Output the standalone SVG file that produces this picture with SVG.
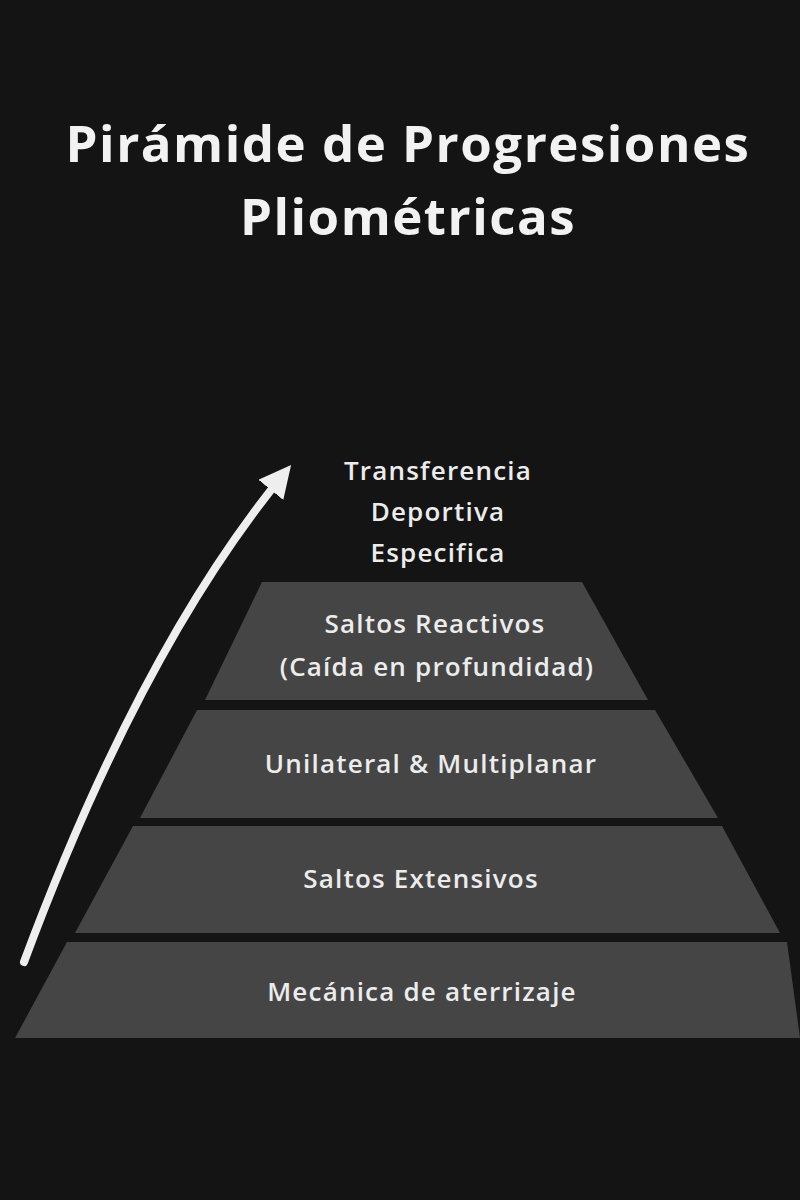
<svg xmlns="http://www.w3.org/2000/svg" width="800" height="1200" viewBox="0 0 800 1200">
<style>
.t{font-family:"Open Sans","Liberation Sans",sans-serif;font-weight:700;fill:#f2f2f2;text-anchor:middle;letter-spacing:1.5px}
.l{font-family:"Open Sans","Liberation Sans",sans-serif;font-weight:600;fill:#ececec;text-anchor:middle;font-size:26px;letter-spacing:1.2px}
.s{fill:#454545}
</style>
<defs><marker id="ah" viewBox="0 0 10 10" refX="6" refY="5" markerWidth="4" markerHeight="4" orient="auto"><path d="M0,0 L10,5 L0,10 Z" fill="#eeeeee"/></marker></defs>
<rect width="800" height="1200" fill="#141414"/>
<text class="t" x="408" y="162" font-size="51">Pirámide de Progresiones</text>
<text class="t" x="408" y="235" font-size="51">Pliométricas</text>
<g id="connectors"><path d="M24,962 Q140,650 283,475" fill="none" stroke="#eeeeee" stroke-width="8" stroke-linecap="round" marker-end="url(#ah)"/></g>
<g id="top"><text class="l" x="438" y="480">Transferencia</text><text class="l" x="438" y="521">Deportiva</text><text class="l" x="438" y="562">Especifica</text></g>
<g id="n4"><polygon class="s" points="262,582 582,582 648,700 205,700"/><text class="l" x="435" y="633">Saltos Reactivos</text><text class="l" x="437" y="676">(Caída en profundidad)</text></g>
<g id="n3"><polygon class="s" points="197,710 655,710 718,818 140,818"/><text class="l" x="431" y="773">Unilateral &amp; Multiplanar</text></g>
<g id="n2"><polygon class="s" points="133,826 722,826 780,933 75,933"/><text class="l" x="421" y="888">Saltos Extensivos</text></g>
<g id="n1"><polygon class="s" points="67,942 787,942 800,1038 15,1038"/><text class="l" x="422" y="1001">Mecánica de aterrizaje</text></g>
</svg>
